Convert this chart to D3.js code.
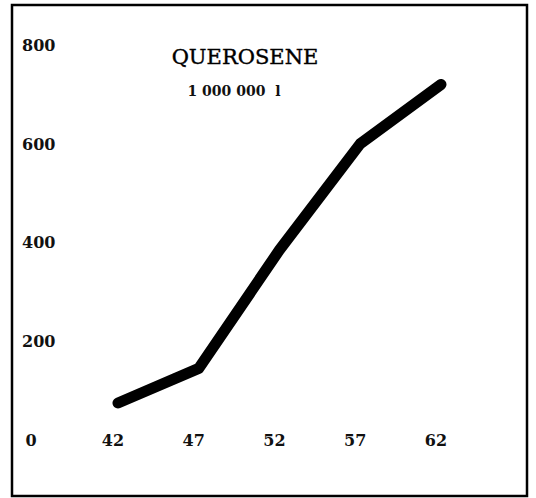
<!DOCTYPE html>
<html>
<head>
  <meta charset="UTF-8">
  <style>
    body {
      margin: 0;
      padding: 0;
      background: #ffffff;
    }
    svg {
      display: block;
    }
    .tick-label {
      font-family: 'DejaVu Serif', serif;
      font-weight: bold;
      font-size: 16px;
      fill: #111;
    }
  </style>
</head>
<body>
<svg></svg>
<script src="https://d3js.org/d3.v7.min.js"></script>
<script>
let width = 536, height = 498;

// data (years 1942-1962, million litres)
let years = [42, 47, 52, 57, 62];
let values = [75, 145, 385, 600, 720];
let yTicks = [200, 400, 600, 800];
let title = "QUEROSENE";
let unit = "1 000 000  l";

let svg = d3.select("svg")
    .attr("width", width)
    .attr("height", height);

// frame
svg.append("rect")
    .attr("x", 12)
    .attr("y", 5)
    .attr("width", 515)
    .attr("height", 491)
    .attr("fill", "none")
    .attr("stroke", "#000")
    .attr("stroke-width", 2.5);

let x = d3.scaleLinear().domain([42, 62]).range([118, 441]);
let y = d3.scaleLinear().domain([0, 800]).range([440, 45]);

// y labels
svg.append("g")
    .selectAll("text")
    .data(yTicks)
    .enter()
    .append("text")
    .attr("class", "tick-label")
    .attr("x", 22)
    .attr("y", d => y(d))
    .attr("dy", "0.36em")
    .text(d => d);

// zero at the corner
svg.append("text")
    .attr("class", "tick-label")
    .attr("x", 31)
    .attr("y", y(0))
    .attr("dy", "0.36em")
    .attr("text-anchor", "middle")
    .text(0);

// x labels
svg.append("g")
    .selectAll("text")
    .data(years)
    .enter()
    .append("text")
    .attr("class", "tick-label")
    .attr("x", d => x(d) - 5)
    .attr("y", y(0))
    .attr("dy", "0.36em")
    .attr("text-anchor", "middle")
    .text(d => d);

// title
svg.append("text")
    .attr("x", 245)
    .attr("y", 64)
    .attr("text-anchor", "middle")
    .style("font-family", "'DejaVu Serif', serif")
    .style("font-size", "21px")
    .style("stroke", "#000")
    .style("stroke-width", 0.4)
    .text(title);

svg.append("text")
    .attr("x", 234)
    .attr("y", 96)
    .attr("text-anchor", "middle")
    .attr("class", "tick-label")
    .style("font-size", "14px")
    .style("white-space", "pre")
    .text(unit);

// line
let line = d3.line()
    .x((d, i) => x(years[i]))
    .y(d => y(d));

svg.append("path")
    .datum(values)
    .attr("d", line)
    .attr("fill", "none")
    .attr("stroke", "#000")
    .attr("stroke-width", 11)
    .attr("stroke-linecap", "round")
    .attr("stroke-linejoin", "round");
</script>
</body>
</html>
